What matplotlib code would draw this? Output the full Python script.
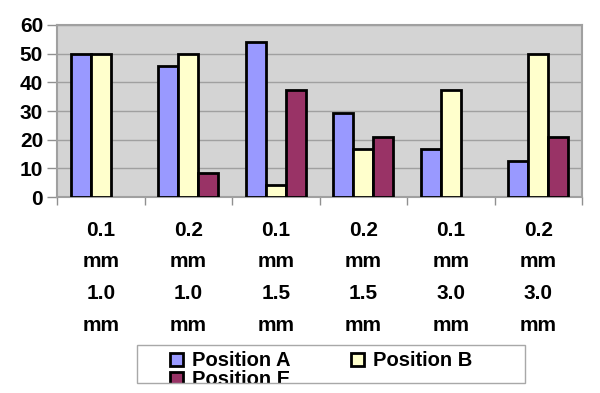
import numpy as np
import matplotlib.pyplot as plt
from matplotlib.patches import Rectangle

categories = ["0.1\nmm\n1.0\nmm", "0.2\nmm\n1.0\nmm", "0.1\nmm\n1.5\nmm",
              "0.2\nmm\n1.5\nmm", "0.1\nmm\n3.0\nmm", "0.2\nmm\n3.0\nmm"]
series_names = ["Position A", "Position B", "Position E"]
pos_a = [50, 45.8, 54.2, 29.2, 16.7, 12.5]
pos_b = [50, 50, 4.2, 16.7, 37.5, 50]
pos_e = [0, 8.3, 37.5, 20.8, 0, 20.8]
colors = ["#9999FF", "#FFFFCC", "#993366"]

plt.rcParams['font.family'] = ['Liberation Sans', 'DejaVu Sans']

fig = plt.figure(figsize=(6, 3.93), dpi=100)
ax = fig.add_axes([0.095, 0.4987, 0.875, 0.4377])
ax.set_facecolor("#d4d4d4")

x = np.arange(len(categories))
w = 0.229
handles = []
for k, (vals, c, name) in enumerate(zip([pos_a, pos_b, pos_e], colors, series_names)):
    h = ax.bar(x + (k - 1) * w, vals, w, color=c, edgecolor="black",
               linewidth=2, zorder=3)
    # empty bars show nothing in the original
    for rect, v in zip(h, vals):
        if v == 0:
            rect.set_linewidth(0)
    handles.append(Rectangle((0, 0), 1, 1, facecolor=c, edgecolor="black",
                             linewidth=2, label=name))

ax.set_xlim(-0.5, len(categories) - 0.5)
ax.set_ylim(0, 60)
ax.set_yticks(range(0, 61, 10))
ax.yaxis.grid(True, color="#a0a0a0", linewidth=1, zorder=0)
ax.set_axisbelow(True)

ax.set_xticks(np.arange(-0.5, len(categories), 1))
ax.set_xticklabels([])
ax.set_xticks(x, minor=True)
ax.set_xticklabels(categories, minor=True, fontsize=15, fontweight="bold",
                   linespacing=1.85)
ax.tick_params(axis="x", which="minor", length=0, pad=17)
ax.tick_params(axis="x", which="major", length=6, color="#909090", width=1)
ax.tick_params(axis="y", length=7, color="#909090", width=1, labelsize=15, pad=3)
for lbl in ax.get_yticklabels():
    lbl.set_fontweight("bold")
for s in ax.spines.values():
    s.set_color("#a0a0a0")
    s.set_linewidth(1.5)

# ncol fills by column, so order A, E, B puts A and B on the first row
leg = fig.legend(handles=[handles[0], handles[2], handles[1]], loc="upper left",
                 ncol=2, bbox_to_anchor=(0.283, 0.106), frameon=False,
                 prop={"weight": "bold", "size": 14.5}, handlelength=0.65,
                 handleheight=0.65, handletextpad=0.45, columnspacing=3.0,
                 labelspacing=0.0, borderpad=0, borderaxespad=0)

# legend box is too short in the original, so the last entry is cut off
fig.patches.append(Rectangle((0, 0), 1, (393 - 384) / 393, transform=fig.transFigure,
                             facecolor="white", edgecolor="none", zorder=10))
fig.patches.append(Rectangle((137 / 600, (393 - 383) / 393), 388 / 600, 38 / 393,
                             transform=fig.transFigure, facecolor="none",
                             edgecolor="#a8a8a8", linewidth=1, zorder=11))

fig.savefig("out.png", dpi=100)
